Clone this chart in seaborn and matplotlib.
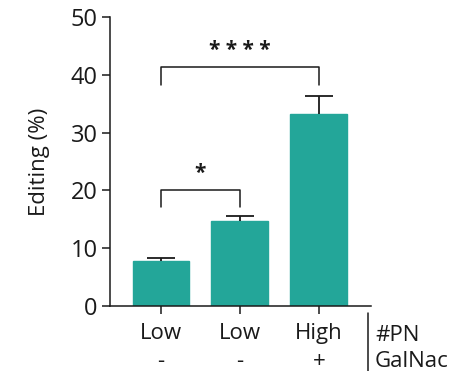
import matplotlib
matplotlib.use("Agg")
import matplotlib.pyplot as plt
import seaborn as sns
import pandas as pd

groups = ["Low\n-", "Low\n-", "High\n+"]
group_ids = ["g1", "g2", "g3"]
editing = [7.8, 14.65, 33.3]
sem = [0.45, 0.85, 3.1]
row_labels = "#PN\nGalNac"
teal = "#23A699"
ink = "#1a1a1a"

sns.set_theme(style="ticks")
plt.rcParams["font.family"] = ["Open Sans", "DejaVu Sans"]

df = pd.DataFrame({"grp": group_ids, "val": editing})

fig = plt.figure(figsize=(4.51, 3.71), dpi=100)
ax = fig.add_axes([0.2439, 0.1752, 0.5787, 0.779])
sns.barplot(data=df, x="grp", y="val", color=teal, saturation=1, width=0.72,
            ax=ax, errorbar=None, edgecolor=teal)
tops = [v + e for v, e in zip(editing, sem)]
ax.vlines(range(3), editing, tops, color=ink, lw=1.3, zorder=3)
ax.hlines(tops, [i - 0.177 for i in range(3)], [i + 0.177 for i in range(3)],
          color=ink, lw=1.3, zorder=3)

ax.set_ylim(0, 50)
ax.set_xlim(-0.645, 2.66)
ax.set_yticks([0, 10, 20, 30, 40, 50])
ax.set_xticks(range(3))
ax.set_xticklabels(groups, fontsize=16, linespacing=1.4, color=ink)
ax.tick_params(axis="y", labelsize=17, length=6, width=1.1, color=ink,
               labelcolor=ink, pad=3)
ax.tick_params(axis="x", length=6, width=1.1, color=ink, pad=6.5)
ax.set_xlabel("")
ax.set_ylabel("Editing (%)", fontsize=16, labelpad=15, color=ink)
for s in ["top", "right"]:
    ax.spines[s].set_visible(False)
for s in ["left", "bottom"]:
    ax.spines[s].set_linewidth(1.1)
    ax.spines[s].set_color(ink)

# significance brackets
def bracket(x1, x2, y, h, text):
    ax.plot([x1, x1, x2, x2], [y - h, y, y, y - h], color=ink, lw=1.1)
    ax.text((x1 + x2) / 2, y + 1.0, text, ha="center", va="bottom",
            fontsize=15, fontweight="bold", color=ink)

bracket(0, 1, 20.1, 2.9, "*")
bracket(0, 2, 41.3, 3.1, "* * * *")

# row labels
ax.text(1.015, -0.066, row_labels, transform=ax.transAxes, ha="left", va="top",
        fontsize=16, linespacing=1.3, color=ink)
ax.plot([0.99, 0.99], [-0.025, -0.23], transform=ax.transAxes, color=ink,
        lw=1.1, clip_on=False)

fig.savefig("out.png", dpi=100)
